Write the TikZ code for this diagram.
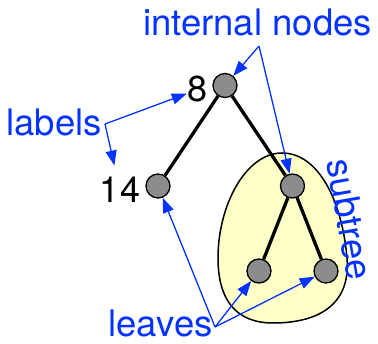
\documentclass[tikz,border=0pt]{standalone}
\usepackage{fontspec}
\setmainfont{TeX Gyre Heros}
\usetikzlibrary{arrows.meta}
\definecolor{kblue}{RGB}{4,51,255}
\definecolor{ngray}{RGB}{140,140,140}
\definecolor{blobyellow}{RGB}{255,255,200}
\tikzset{
  treenode/.style={circle,draw=black,line width=1.3pt,fill=ngray,minimum size=24pt,inner sep=0pt},
  treeedge/.style={line width=3.3pt,black},
  bluetext/.style={text=kblue,font=\fontsize{36.5}{42}\selectfont,inner sep=1pt},
  numtext/.style={text=black,font=\fontsize{36}{42}\selectfont,inner sep=1pt},
  callout/.style={kblue,line width=1.3pt,-{Triangle[length=15pt,width=11pt]}},
  blobstyle/.style={draw=black,line width=1.5pt,fill=blobyellow}
}
\begin{document}
\begin{tikzpicture}[x=1pt,y=-1pt]
\useasboundingbox (0,0) rectangle (378,344);
% subtree blob
\draw[blobstyle] (282,153) .. controls (318,153) and (342,200) .. (347,258)
  .. controls (351,305) and (318,323) .. (273,323)
  .. controls (236,323) and (218,300) .. (218,258)
  .. controls (218,205) and (246,153) .. (282,153);
% tree nodes
\node[treenode] (root) at (225,85.5) {};
\node[treenode] (n14) at (158,186) {};
\node[treenode] (inner) at (292.5,186) {};
\node[treenode] (leafa) at (259,271) {};
\node[treenode] (leafb) at (326,271) {};
% edges
\draw[treeedge] (root) -- (n14);
\draw[treeedge] (root) -- (inner);
\draw[treeedge] (inner) -- (leafa);
\draw[treeedge] (inner) -- (leafb);
% numeric labels
\node[numtext,anchor=base] (eight) at (198,102) {8};
\node[numtext,anchor=base] (fourteen) at (120,203) {14};
% callout texts
\node[bluetext,anchor=base] (tinternal) at (257.5,36) {internal nodes};
\node[bluetext,anchor=base] (tlabels) at (54,136) {labels};
\node[bluetext,anchor=base] (tleaves) at (160.5,337) {leaves};
\node[bluetext,rotate=-80] (tsubtree) at (350,219) {subtree};
% apex points
\coordinate (ia) at (259,46);
\coordinate (la) at (105,124);
\coordinate (lva) at (215,327);
% callout arrows
\draw[callout] (ia) -- (root);
\draw[callout] (ia) -- (inner);
\draw[callout] (la) -- (eight);
\draw[callout,shorten >=11pt] (la) -- (fourteen);
\draw[callout] (lva) -- (n14);
\draw[callout] (lva) -- (leafa);
\draw[callout] (lva) -- (leafb);
\end{tikzpicture}
\end{document}
